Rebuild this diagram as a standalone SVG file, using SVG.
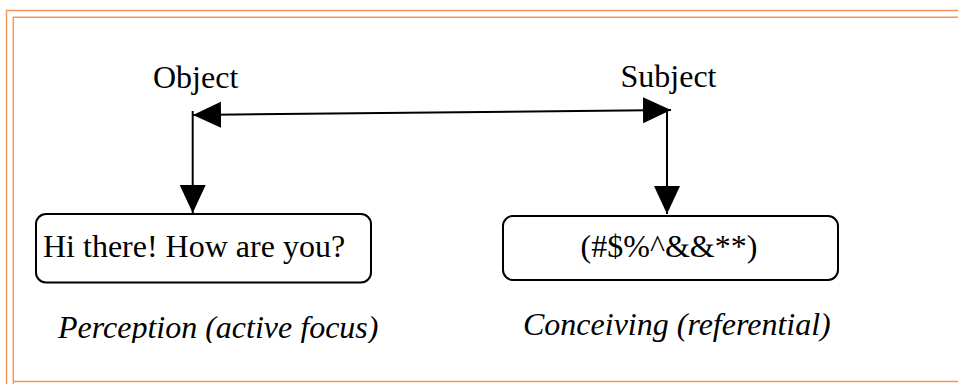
<svg xmlns="http://www.w3.org/2000/svg" width="958" height="384" viewBox="0 0 958 384">
<style>
.frame{fill:none;stroke:#F7965C;stroke-width:1.5}
.box{fill:#fff;stroke:#000;stroke-width:2}
.conn{fill:none;stroke:#000;stroke-width:2}
.t{font-family:"Liberation Serif","Times New Roman",serif;font-size:32px;fill:#000}
.i{font-style:italic}
</style>
<defs>
<marker id="ah" markerUnits="userSpaceOnUse" markerWidth="30" markerHeight="28" refX="28" refY="13" orient="auto-start-reverse" viewBox="0 0 30 28">
<path d="M0,0 L28,13 L0,26 Z" fill="#000"/>
</marker>
<clipPath id="clipP"><rect x="40" y="290" width="360" height="53"/></clipPath>
</defs>
<rect width="958" height="384" fill="#fff"/>
<g id="frame">
<path class="frame" d="M6.5,384 V10.5 H958"/>
<path class="frame" d="M13.3,384 V17.3 H958"/>
<path class="frame" d="M13.3,381.5 H958"/>
</g>
<g id="connectors">
<path class="conn" d="M193,115 L671,110" marker-start="url(#ah)" marker-end="url(#ah)"/>
<path class="conn" d="M192.7,111 L192.7,213" marker-end="url(#ah)"/>
<path class="conn" d="M667,110 L667,214" marker-end="url(#ah)"/>
</g>
<g id="object"><text class="t" x="153" y="88">Object</text></g>
<g id="subject"><text class="t" x="620.5" y="87">Subject</text></g>
<g id="box-left">
<rect class="box" x="36" y="214" width="335" height="68.5" rx="10"/>
<text class="t" x="43" y="256.5">Hi there! How are you?</text>
</g>
<g id="box-right">
<rect class="box" x="503" y="216" width="335" height="64" rx="10"/>
<text class="t" x="669" y="256.5" text-anchor="middle">(#$%^&amp;&amp;**)</text>
</g>
<g id="label-perception">
<text class="t i" x="58" y="338" clip-path="url(#clipP)">Perception (active focus)</text>
</g>
<g id="label-conceiving">
<text class="t i" x="523" y="335">Conceiving (referential)</text>
</g>
</svg>
